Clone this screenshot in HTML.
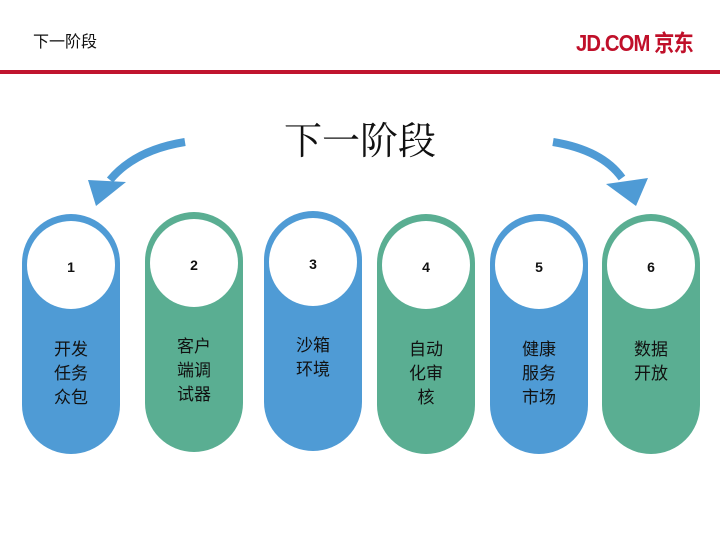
<!DOCTYPE html>
<html><head><meta charset="utf-8"><style>
body{margin:0;width:720px;height:540px;background:#fff;position:relative;overflow:hidden;font-family:"Liberation Sans","Noto Sans CJK SC",sans-serif}
.pill{position:absolute;width:98px;height:240px;border-radius:49px}
.b{background:#4f9bd5}.g{background:#5aae92}
.c{position:absolute;left:5px;top:7px;width:88px;height:88px;border-radius:50%;background:#fff;text-align:center;line-height:92px;font-size:14px;font-weight:bold;color:#111}
.t{position:absolute;left:0;width:98px;top:122px;font-size:17px;line-height:24px;color:#111;text-align:center}
</style></head><body>
<div style="position:absolute;left:33px;top:28px;font-size:16px;color:#111">下一阶段</div>
<div style="position:absolute;left:576px;top:24px;font-size:23px;font-weight:bold;color:#c0102a;letter-spacing:-1px;transform:scaleX(0.88);transform-origin:left">JD.COM 京东</div>
<div style="position:absolute;left:0;top:70px;width:720px;height:4px;background:#c0152e"></div>
<div style="position:absolute;left:0;width:720px;top:110px;text-align:center;font-size:38px;font-family:'Noto Serif CJK SC','Liberation Serif',serif;color:#111">下一阶段</div>
<svg width="720" height="540" style="position:absolute;left:0;top:0">
<path d="M185 142 Q135 150 110 180" stroke="#4f9bd5" stroke-width="8" fill="none"/>
<polygon points="88,180 126,182 96,206" fill="#4f9bd5"/>
<path d="M553 142 Q602 150 622 178" stroke="#4f9bd5" stroke-width="8" fill="none"/>
<polygon points="606,184 648,178 636,206" fill="#4f9bd5"/>
</svg>
<div class="pill b" style="left:22px;top:214px"><div class="c">1</div><div class="t" style="top:124px">开发<br>任务<br>众包</div></div>
<div class="pill g" style="left:145px;top:212px"><div class="c">2</div><div class="t" style="top:123px">客户<br>端调<br>试器</div></div>
<div class="pill b" style="left:264px;top:211px"><div class="c">3</div><div class="t" style="top:123px">沙箱<br>环境</div></div>
<div class="pill g" style="left:377px;top:214px"><div class="c">4</div><div class="t" style="top:124px">自动<br>化审<br>核</div></div>
<div class="pill b" style="left:490px;top:214px"><div class="c">5</div><div class="t" style="top:124px">健康<br>服务<br>市场</div></div>
<div class="pill g" style="left:602px;top:214px"><div class="c">6</div><div class="t" style="top:124px">数据<br>开放</div></div>
</body></html>
